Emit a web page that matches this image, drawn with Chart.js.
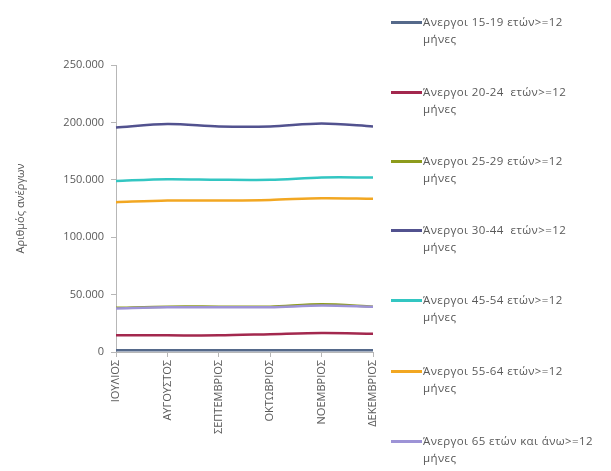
<!DOCTYPE html>
<html>
<head>
<meta charset="utf-8">
<script src="https://cdn.jsdelivr.net/npm/chart.js@4.4.1/dist/chart.umd.min.js"></script>
<style>
  html, body { margin: 0; padding: 0; background: #fff; }
  #wrap { position: relative; width: 611px; height: 471px; overflow: hidden; }
  #legend { position: absolute; left: 0; top: 0; font-family: "Open Sans", sans-serif; font-size: 11.5px; letter-spacing: 0.4px; color: #595959; }
  .item { position: absolute; left: 391px; white-space: nowrap; }
  .item .sw { position: absolute; left: 0; width: 31px; height: 3px; }
  .item .txt { position: absolute; left: 32px; line-height: 17px; }
</style>
</head>
<body>
<div id="wrap">
  <canvas id="myChart" width="611" height="471"></canvas>
  <div id="legend"></div>
</div>
<script>
// categories
const months = ['ΙΟΥΛΙΟΣ', 'ΑΥΓΟΥΣΤΟΣ', 'ΣΕΠΤΕΜΒΡΙΟΣ', 'ΟΚΤΩΒΡΙΟΣ', 'ΝΟΕΜΒΡΙΟΣ', 'ΔΕΚΕΜΒΡΙΟΣ'];

// series values
const age15_19 = [1500, 1500, 1500, 1500, 1500, 1500];
const age20_24 = [14500, 14500, 14500, 15500, 16500, 16000];
const age25_29 = [38500, 39500, 39500, 39500, 41500, 39500];
const age30_44 = [195500, 198500, 196500, 196500, 199000, 196500];
const age45_54 = [149000, 150500, 150000, 150000, 152000, 152000];
const age55_64 = [130500, 132000, 132000, 132500, 134000, 133500];
const age65 = [38000, 39000, 39000, 39000, 40500, 39500];

// y ticks
const yTicks = [0, 50000, 100000, 150000, 200000, 250000];

const seriesNames = [
  'Άνεργοι 15-19 ετών>=12',
  'Άνεργοι 20-24  ετών>=12',
  'Άνεργοι 25-29 ετών>=12',
  'Άνεργοι 30-44  ετών>=12',
  'Άνεργοι 45-54 ετών>=12',
  'Άνεργοι 55-64 ετών>=12',
  'Άνεργοι 65 ετών και άνω>=12'
];
const seriesColors = ['#55698a', '#a3284e', '#8d9b1c', '#52528f', '#33c6c2', '#f2a722', '#9d93d6'];
const seriesData = [age15_19, age20_24, age25_29, age30_44, age45_54, age55_64, age65];

const datasets = seriesData.map(function(d, i){
  return {
    label: seriesNames[i],
    data: d,
    borderColor: seriesColors[i],
    backgroundColor: seriesColors[i],
    borderWidth: 2.5,
    pointRadius: 0,
    tension: 0.3,
    order: i === 6 ? -1 : i
  };
});

function fmt(v){
  return v.toString().replace(/\B(?=(\d{3})+(?!\d))/g, '.');
}

const axisGray = '#b7b7b7';
const txtGray = '#595959';

const config = {
  type: 'line',
  data: { labels: months, datasets: datasets },
  options: {
    responsive: false,
    animation: false,
    layout: { padding: { left: 0, right: 238, top: 65, bottom: 0 } },
    plugins: { legend: { display: false }, tooltip: { enabled: false } },
    scales: {
      x: {
        offset: false,
        grid: { drawOnChartArea: false, color: axisGray, tickLength: 5 },
        border: { color: axisGray },
        ticks: {
          minRotation: 90, maxRotation: 90, autoSkip: false,
          color: txtGray, font: { family: 'Open Sans', size: 11 }, padding: 3
        },
        afterFit: function(s){ s.height = 471 - 352; }
      },
      y: {
        min: 0, max: 250000,
        afterBuildTicks: function(s){ s.ticks = yTicks.map(function(v){ return { value: v }; }); },
        grid: { drawOnChartArea: false, color: axisGray, tickLength: 5 },
        border: { color: axisGray },
        ticks: {
          color: txtGray, font: { family: 'Open Sans', size: 11 }, padding: 7,
          callback: function(v){ return fmt(v); }
        },
        title: {
          display: true, text: 'Αριθμός ανέργων', color: txtGray,
          font: { family: 'Open Sans', size: 11 }, padding: { top: 14, bottom: 0 }
        },
        afterFit: function(s){ s.width = 116; }
      }
    }
  }
};

const myChart = new Chart(document.getElementById('myChart'), config);

// legend as html, built from the datasets
const legendTops = [22, 92, 161, 230, 300, 371, 441];
const legendEl = document.getElementById('legend');
myChart.data.datasets.forEach(function(ds, i){
  const item = document.createElement('div');
  item.className = 'item';
  item.style.top = (legendTops[i] - 9) + 'px';
  const sw = document.createElement('div');
  sw.className = 'sw';
  sw.style.top = '8px';
  sw.style.background = ds.borderColor;
  const txt = document.createElement('div');
  txt.className = 'txt';
  txt.innerHTML = ds.label.replace(/  /g, ' &nbsp;') + '<br>μήνες';
  item.appendChild(sw);
  item.appendChild(txt);
  legendEl.appendChild(item);
});
</script>
</body>
</html>
